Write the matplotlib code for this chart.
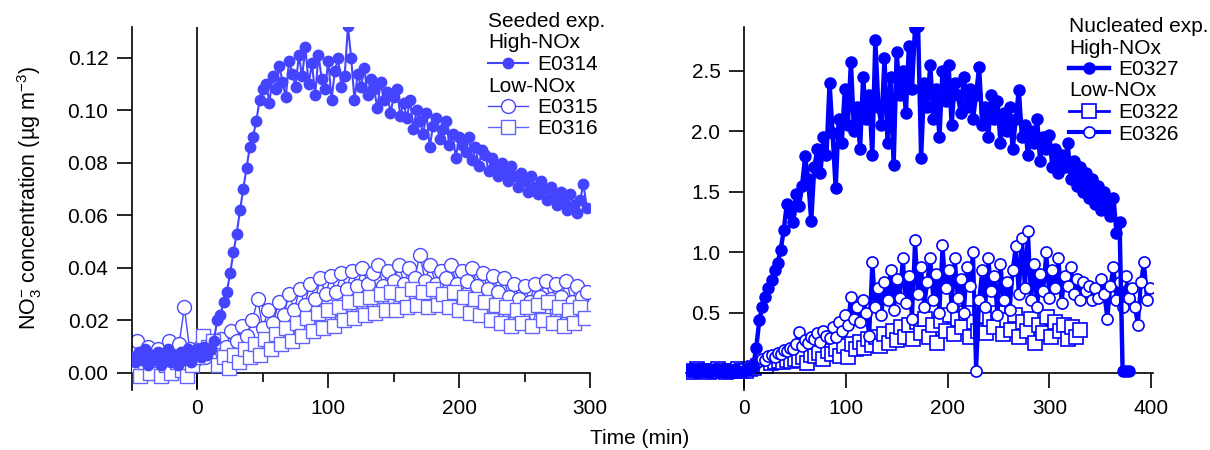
import numpy as np
import matplotlib
matplotlib.use('Agg')
import matplotlib.pyplot as plt
from matplotlib.lines import Line2D

plt.rcParams['font.family'] = ['Liberation Sans', 'DejaVu Sans']
plt.rcParams['mathtext.fontset'] = 'custom'
plt.rcParams['mathtext.rm'] = 'Liberation Sans'
plt.rcParams['mathtext.it'] = 'Liberation Sans:italic'

# ---- seeded experiments (left), NO3- in ug m-3 ----
# E0314, high-NOx, sampled every 2.5 min from -50 min
e0314_t0, e0314_dt = -50, 2.5
e0314 = [0.006, 0.004, 0.008, 0.005, 0.009, 0.003, 0.007, 0.005, 0.008, 0.003,
         0.006, 0.009, 0.004, 0.007, 0.003, 0.008, 0.005, 0.009, 0.004, 0.007,
         0.009, 0.006, 0.010, 0.007,
         0.009, 0.012, 0.020, 0.022, 0.027, 0.031, 0.038, 0.046, 0.053, 0.062,
         0.070, 0.078, 0.086, 0.090, 0.096, 0.104, 0.108, 0.110, 0.103, 0.113,
         0.108, 0.117, 0.111, 0.105, 0.119, 0.114, 0.109, 0.121, 0.113, 0.124,
         0.110, 0.118, 0.106, 0.121, 0.112, 0.108, 0.119, 0.104, 0.115, 0.120,
         0.109, 0.113, 0.132, 0.120, 0.104, 0.114, 0.109, 0.116, 0.106, 0.112,
         0.108, 0.101, 0.111, 0.104, 0.107, 0.099, 0.105, 0.108, 0.098, 0.103,
         0.097, 0.104, 0.093, 0.100, 0.096, 0.091, 0.099, 0.086, 0.094, 0.097,
         0.089, 0.093, 0.096, 0.087, 0.091, 0.082, 0.090, 0.087, 0.084, 0.090,
         0.081, 0.086, 0.079, 0.085, 0.083, 0.077, 0.082, 0.079, 0.075, 0.080,
         0.077, 0.073, 0.079, 0.075, 0.071, 0.076, 0.073, 0.069, 0.075, 0.071,
         0.068, 0.073, 0.070, 0.066, 0.071, 0.067, 0.064, 0.069, 0.066, 0.062,
         0.068, 0.064, 0.061, 0.066, 0.072, 0.063]

# E0315, low-NOx, every 4 min from -50 min
e0315_t0, e0315_dt = -50, 4
e0315 = [0.009, 0.012, 0.006, 0.010, 0.005, 0.009, 0.007, 0.012, 0.006, 0.011,
         0.025, 0.009, 0.005, 0.010, 0.006, 0.012, 0.008, 0.013, 0.010, 0.016,
         0.012, 0.018, 0.014, 0.020, 0.028, 0.017, 0.024, 0.019, 0.027, 0.022,
         0.030, 0.024, 0.032, 0.026, 0.034, 0.028, 0.036, 0.030, 0.037, 0.031,
         0.038, 0.032, 0.039, 0.033, 0.040, 0.034, 0.038, 0.041, 0.033, 0.039,
         0.035, 0.041, 0.034, 0.040, 0.036, 0.045, 0.035, 0.041, 0.034, 0.039,
         0.036, 0.041, 0.034, 0.039, 0.035, 0.040, 0.033, 0.038, 0.032, 0.037,
         0.031, 0.036, 0.029, 0.034, 0.028, 0.033, 0.027, 0.034, 0.029, 0.035,
         0.028, 0.034, 0.029, 0.035, 0.027, 0.033, 0.029, 0.031]

# E0316, low-NOx, every 4 min from -48 min
e0316_t0, e0316_dt = -48, 4
e0316 = [0.003, -0.001, 0.004, 0.000, 0.005, -0.001, 0.003, 0.000, 0.004, 0.001,
         -0.001, 0.003, 0.006, 0.014, 0.010, 0.012, 0.003, 0.006, 0.002, 0.007,
         0.004, 0.009, 0.006, 0.011, 0.007, 0.013, 0.009, 0.015, 0.011, 0.017,
         0.012, 0.019, 0.014, 0.021, 0.016, 0.023, 0.017, 0.024, 0.018, 0.025,
         0.020, 0.027, 0.021, 0.028, 0.022, 0.029, 0.023, 0.030, 0.024, 0.031,
         0.024, 0.030, 0.025, 0.032, 0.026, 0.031, 0.025, 0.032, 0.026, 0.030,
         0.025, 0.031, 0.024, 0.029, 0.023, 0.028, 0.022, 0.027, 0.020, 0.026,
         0.019, 0.025, 0.018, 0.024, 0.019, 0.025, 0.018, 0.026, 0.020, 0.027,
         0.019, 0.025, 0.018, 0.024, 0.019, 0.025, 0.021]

# ---- nucleated experiments (right) ----
# E0327, high-NOx, every 3 min from -54 min
e0327_t0, e0327_dt = -54, 3
e0327 = [0.02, 0.03, 0.01, 0.02, 0.03, 0.02, 0.01, 0.02, 0.03, 0.02,
         0.02, 0.01, 0.03, 0.02, 0.02, 0.03, 0.02, 0.01, 0.02, 0.03,
         0.04, 0.06,
         0.21, 0.44, 0.55, 0.63, 0.70, 0.77, 0.85, 0.91, 1.02, 1.18,
         1.40, 1.32, 1.25, 1.48, 1.38, 1.55, 1.79, 1.60, 1.26, 1.70,
         1.85, 1.65, 1.95, 1.80, 2.40, 1.98, 1.53, 2.10, 1.90, 2.35,
         2.05, 2.57, 2.00, 2.20, 1.85, 2.45, 2.10, 2.30, 1.80, 2.75,
         2.20, 2.05, 2.60, 1.90, 2.45, 1.72, 2.65, 2.30, 2.50, 2.15,
         2.70, 2.35, 2.85, 2.87, 1.78, 2.40, 2.20, 2.55, 2.10, 2.35,
         1.95, 2.50, 2.25, 2.55, 2.05, 2.40, 2.30, 2.15, 2.45, 2.20,
         2.35, 2.10, 2.30, 2.53, 2.05, 2.20, 1.95, 2.30, 2.10, 2.25,
         1.90, 2.15, 2.00, 2.20, 1.85, 2.10, 2.34, 1.95, 2.05, 1.80,
         2.00, 1.90, 2.10, 1.75, 1.95, 1.85, 1.97, 1.70, 1.85, 1.65,
         1.80, 1.70, 1.90, 1.60, 1.75, 1.55, 1.70, 1.50, 1.65, 1.45,
         1.60, 1.40, 1.55, 1.35, 1.50, 1.38, 1.30, 1.45, 1.16, 1.25,
         0.02, 0.02, 0.02]

# E0322, low-NOx, every 4 min from -54 min
e0322_t0, e0322_dt = -54, 4
e0322 = [0.02, 0.01, 0.03, 0.02, 0.02, 0.01, 0.02, 0.03, 0.02, 0.01,
         0.02, 0.02, 0.03, 0.02, 0.02, 0.03, 0.04,
         0.06, 0.07, 0.06, 0.08, 0.09, 0.10, 0.09, 0.11, 0.10, 0.12,
         0.11, 0.13, 0.08, 0.15, 0.14, 0.17, 0.12, 0.18, 0.16, 0.20,
         0.14, 0.22, 0.13, 0.24, 0.20, 0.26, 0.21, 0.28, 0.23, 0.30,
         0.22, 0.32, 0.25, 0.35, 0.27, 0.38, 0.30, 0.40, 0.28, 0.42,
         0.33, 0.45, 0.30, 0.40, 0.25, 0.43, 0.35, 0.48, 0.32, 0.45,
         0.38, 0.50, 0.30, 0.42, 0.35, 0.47, 0.33, 0.45, 0.38, 0.50,
         0.32, 0.44, 0.36, 0.48, 0.30, 0.42, 0.35, 0.45, 0.25, 0.40,
         0.33, 0.46, 0.30, 0.42, 0.35, 0.40, 0.28, 0.38, 0.30, 0.36]

# E0326, low-NOx, every 3 min from -54 min
e0326_t0, e0326_dt = -54, 3
e0326 = [0.02, 0.03, 0.02, 0.01, 0.02, 0.03, 0.02, 0.02, 0.01, 0.03,
         0.02, 0.02, 0.03, 0.02, 0.01, 0.02, 0.02, 0.03, 0.02, 0.03,
         0.04, 0.06, 0.08,
         0.10, 0.12, 0.11, 0.14, 0.15, 0.13, 0.17, 0.16, 0.19, 0.18,
         0.21, 0.20, 0.24, 0.34, 0.22, 0.27, 0.25, 0.30, 0.28, 0.33,
         0.26, 0.35, 0.31, 0.29, 0.38, 0.30, 0.42, 0.35, 0.48, 0.40,
         0.63, 0.45, 0.55, 0.42, 0.60, 0.50, 0.31, 0.92, 0.55, 0.70,
         0.48, 0.75, 0.60, 0.85, 0.52, 0.78, 0.62, 0.95, 0.58, 0.80,
         0.45, 1.10, 0.65, 0.88, 0.55, 0.75, 0.95, 0.60, 0.82, 0.50,
         1.06, 0.70, 0.85, 0.55, 0.95, 0.62, 0.78, 0.50, 0.88, 0.72,
         1.00, 0.02, 0.60, 0.85, 0.55, 0.95, 0.68, 0.80, 0.48, 0.90,
         0.60, 0.75, 0.52, 0.85, 1.05, 0.65, 1.12, 0.70, 1.17, 0.60,
         0.90, 0.55, 0.82, 0.68, 1.00, 0.62, 0.85, 0.70, 0.95, 0.58,
         0.80, 0.72, 0.88, 0.65, 0.78, 0.60, 0.75, 0.68, 0.72, 0.60,
         0.70, 0.62, 0.78, 0.65, 0.45, 0.72, 0.88, 0.60, 0.75, 0.55,
         0.80, 0.62, 0.70, 0.55, 0.40, 0.75, 0.92, 0.60, 0.70]


def times(t0, dt, vals):
    return t0 + dt * np.arange(len(vals))


def style_axis(ax):
    for side in ('top', 'right'):
        ax.spines[side].set_visible(False)
    for side in ('left', 'bottom'):
        ax.spines[side].set_linewidth(1.2)
    ax.tick_params(axis='both', which='major', direction='out', length=11,
                   width=1.2, labelsize=15, colors='black')
    ax.tick_params(axis='x', which='major', pad=8)
    ax.tick_params(axis='y', which='major', pad=6)
    ax.tick_params(axis='x', which='minor', direction='out', length=6.5, width=1.2)


def add_legend(ax, title, entries, anchor):
    # entries: str -> header line, Line2D -> series entry
    headers = [title]
    handles = [Line2D([], [], linestyle='none', label=title)]
    for e in entries:
        if isinstance(e, str):
            headers.append(e)
            handles.append(Line2D([], [], linestyle='none', label=e))
        else:
            handles.append(e)
    leg = ax.legend(handles=handles, loc='upper left', bbox_to_anchor=anchor,
                    bbox_transform=ax.figure.transFigure, frameon=False,
                    fontsize=15, handlelength=1.9, handletextpad=0.45,
                    labelspacing=0.12, borderpad=0, borderaxespad=0)
    # header lines start where the line handles start
    for col in leg._legend_handle_box.get_children():
        for row in col.get_children():
            da, ta = row.get_children()
            if ta.get_text() in headers:
                da.width = 0
                row.sep = 0
    return leg


fig = plt.figure(figsize=(12.1, 4.5), dpi=100)
ax1 = fig.add_axes([0.1091, 0.1333, 0.3785, 0.8067])
ax2 = fig.add_axes([0.567, 0.1333, 0.386, 0.8067])

c_hi = '#4444ff'
c_lo = '#4848ff'
c_sq = '#6262ff'

l15, = ax1.plot(times(e0315_t0, e0315_dt, e0315), e0315, '-o', color=c_lo,
                mfc='white', mec=c_lo, ms=10, mew=1.0, lw=1.0, label='E0315', zorder=2)
l16, = ax1.plot(times(e0316_t0, e0316_dt, e0316), e0316, '-s', color=c_sq,
                mfc='white', mec=c_sq, ms=9.5, mew=1.0, lw=1.0, label='E0316', zorder=3)
l14, = ax1.plot(times(e0314_t0, e0314_dt, e0314), e0314, '-o', color=c_hi,
                mec=c_hi, ms=7.5, lw=1.5, label='E0314', zorder=4)

ax1.axvline(0, color='black', lw=1.2, zorder=1)
ax1.set_xlim(-50, 300)
ax1.set_ylim(-0.0065, 0.1318)
ax1.spines['bottom'].set_position(('data', 0))
ax1.set_xticks([0, 100, 200, 300])
ax1.set_xticks([50, 150, 250], minor=True)
ax1.set_yticks(np.arange(0, 0.121, 0.02))
ax1.set_yticklabels(['%.2f' % v for v in np.arange(0, 0.121, 0.02)])
style_axis(ax1)

blue = '#0000ff'
l22, = ax2.plot(times(e0322_t0, e0322_dt, e0322), e0322, '-s', color=blue,
                mfc='white', mec=blue, ms=10, mew=1.2, lw=2, label='E0322', zorder=2)
l26, = ax2.plot(times(e0326_t0, e0326_dt, e0326), e0326, '-o', color=blue,
                mfc='white', mec=blue, ms=8, mew=1.2, lw=3, label='E0326', zorder=3)
l27, = ax2.plot(times(e0327_t0, e0327_dt, e0327), e0327, '-o', color=blue,
                mec=blue, ms=8, lw=3.2, label='E0327', zorder=4)

ax2.set_xlim(-57, 402)
ax2.set_ylim(-0.14, 2.86)
ax2.spines['left'].set_position(('data', 0))
ax2.spines['bottom'].set_position(('data', 0))
ax2.set_xticks([0, 100, 200, 300, 400])
ax2.set_yticks([0.5, 1.0, 1.5, 2.0, 2.5])
ax2.set_yticklabels(['%.1f' % v for v in [0.5, 1.0, 1.5, 2.0, 2.5]])
style_axis(ax2)

add_legend(ax1, 'Seeded exp.', ['High-NOx', l14, 'Low-NOx', l15, l16],
           (488 / 1210, 1 - 12 / 450))
add_legend(ax2, 'Nucleated exp.', ['High-NOx', l27, 'Low-NOx', l22, l26],
           (1069 / 1210, 1 - 17 / 450))

fig.text(30 / 1210, 1 - 198 / 450,
         r'NO$_3^{\mathrm{-}}$ concentration (µg m$^{\mathrm{-3}}$)',
         rotation=90, ha='center', va='center', fontsize=15.5)
fig.text(640 / 1210, 1 - 438 / 450, 'Time (min)', ha='center', va='center',
         fontsize=15)

fig.savefig('out.png', dpi=100)
